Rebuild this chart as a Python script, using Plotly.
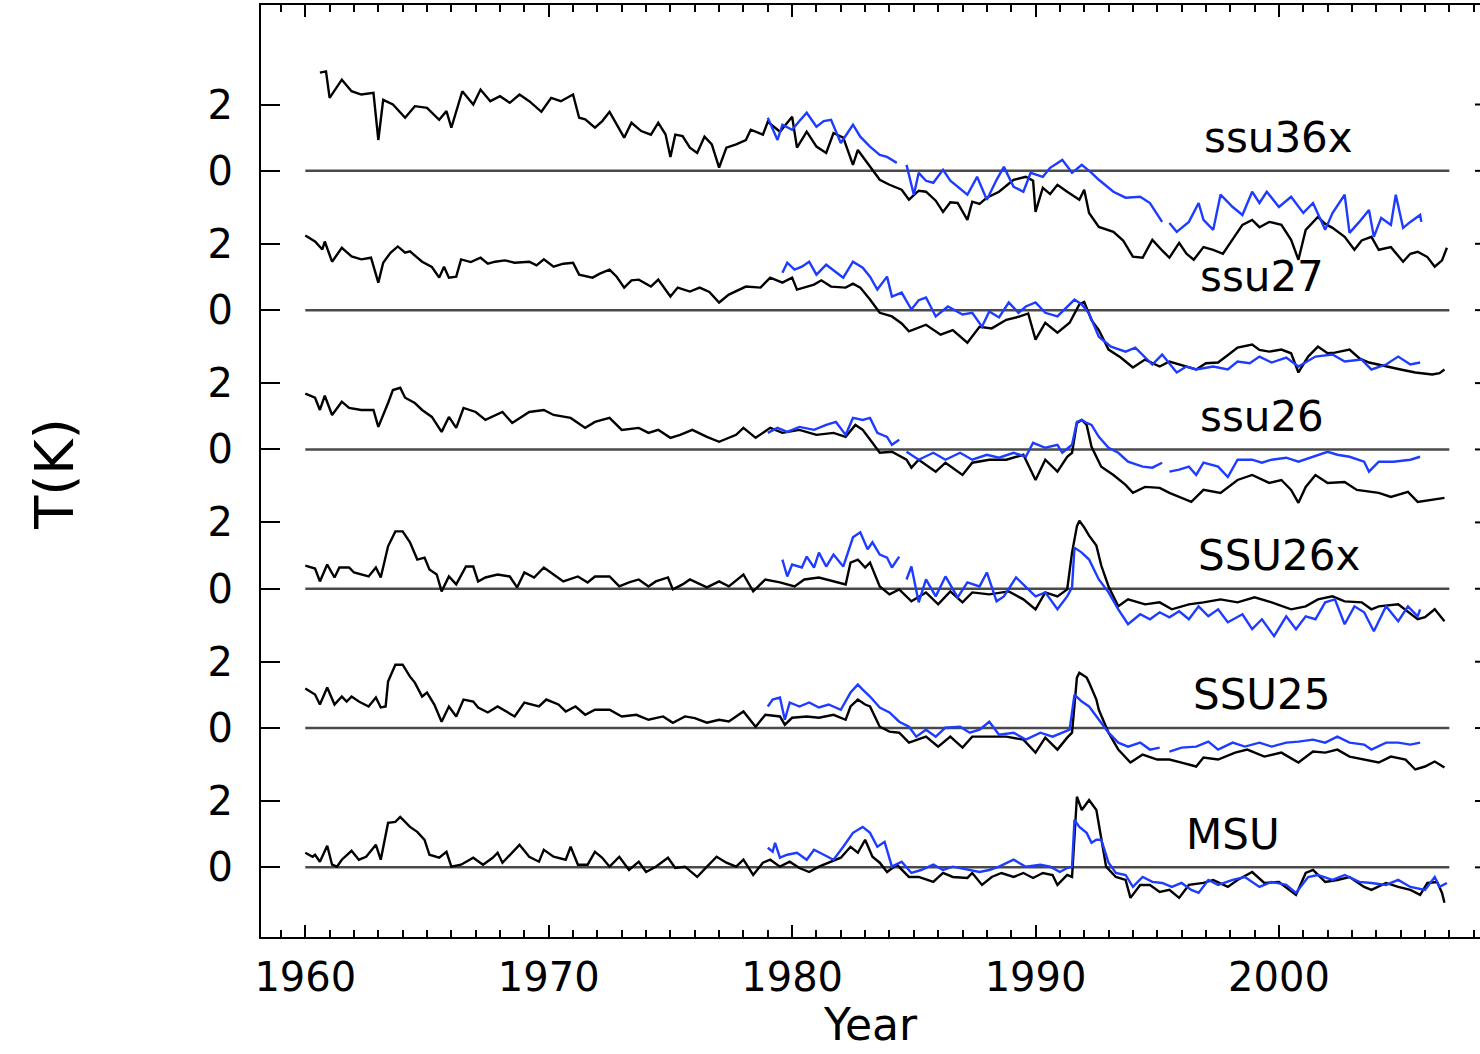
import plotly.graph_objects as go

# ---------------- data (year, T anomaly in K); None = gap ----------------
panel_names = ["ssu36x", "ssu27", "ssu26", "SSU26x", "SSU25", "MSU"]
panel_spacing = 4.2

ssu36x_black = [(1960.6, 2.96), (1960.85, 3.0), (1961.0, 2.2), (1961.5, 2.75), (1961.9, 2.4), (1962.3, 2.3), (1962.8, 2.35),
    (1963.0, 0.93), (1963.2, 2.14), (1963.6, 2.0), (1964.1, 1.6), (1964.5, 1.95), (1965.0, 1.9), (1965.5, 1.54), (1965.8, 1.8),
    (1966.0, 1.3), (1966.45, 2.4), (1966.9, 2.0), (1967.2, 2.45), (1967.6, 2.1), (1968.0, 2.25), (1968.4, 2.05), (1968.8, 2.3),
    (1969.2, 2.1), (1969.7, 1.78), (1970.1, 2.2), (1970.5, 2.1), (1971.0, 2.3), (1971.25, 1.6), (1971.5, 1.55), (1971.9, 1.3),
    (1972.2, 1.5), (1972.5, 1.78), (1972.8, 1.4), (1973.1, 1.0), (1973.4, 1.45), (1973.8, 1.2), (1974.2, 1.09), (1974.5, 1.45),
    (1974.8, 1.1), (1975.0, 0.42), (1975.2, 1.09), (1975.5, 1.05), (1975.8, 0.7), (1976.1, 0.54), (1976.4, 1.03), (1976.7, 0.8),
    (1977.0, 0.1), (1977.3, 0.7), (1977.7, 0.8), (1978.1, 0.93), (1978.3, 1.24), (1978.8, 1.09), (1979.0, 1.48), (1979.5, 1.18),
    (1980.0, 1.63), (1980.2, 0.7), (1980.6, 1.18), (1981.0, 0.73), (1981.4, 0.54), (1981.7, 1.14), (1982.1, 1.0), (1982.5, 0.18),
    (1982.7, 0.63), (1983.1, 0.24), (1983.6, -0.27), (1984.0, -0.42), (1984.5, -0.57), (1984.8, -0.87), (1985.2, -0.6),
    (1985.5, -0.63), (1985.9, -0.9), (1986.2, -1.24), (1986.5, -0.95), (1986.8, -0.97), (1987.2, -1.48), (1987.4, -0.93),
    (1987.7, -1.0), (1988.0, -0.81), (1988.5, -0.63), (1988.8, -0.45), (1989.1, -0.27), (1989.6, -0.18), (1989.9, -0.3),
    (1990.0, -1.24), (1990.3, -0.51), (1990.6, -0.7), (1990.9, -0.42), (1991.3, -0.63), (1991.8, -0.87), (1992.0, -0.57),
    (1992.2, -1.27), (1992.6, -1.69), (1993.2, -1.84), (1993.6, -2.1), (1994.0, -2.59), (1994.4, -2.62), (1994.8, -2.08),
    (1995.2, -2.4), (1995.5, -2.62), (1995.9, -2.17), (1996.2, -2.5), (1996.5, -2.68), (1996.9, -2.3), (1997.3, -2.38),
    (1997.7, -2.5), (1998.0, -2.17), (1998.5, -1.63), (1998.9, -1.48), (1999.2, -1.7), (1999.6, -1.54), (2000.1, -1.63),
    (2000.5, -2.08), (2000.8, -2.68), (2001.1, -1.78), (2001.6, -1.39), (2001.9, -1.6), (2002.2, -1.72), (2002.7, -1.99),
    (2003.1, -2.38), (2003.4, -2.1), (2003.8, -1.99), (2004.1, -2.38), (2004.6, -2.3), (2005.1, -2.74), (2005.4, -2.5),
    (2005.7, -2.44), (2006.1, -2.6), (2006.4, -2.89), (2006.7, -2.7), (2006.9, -2.32)]

ssu36x_blue = [(1979.0, 1.6), (1979.4, 0.93), (1979.6, 1.39), (1980.0, 1.24), (1980.3, 1.5), (1980.6, 1.75), (1981.0, 1.33),
    (1981.3, 1.5), (1981.6, 1.54), (1982.0, 0.84), (1982.5, 1.39), (1982.8, 1.03), (1983.2, 0.73), (1983.6, 0.48), (1983.9, 0.42),
    (1984.3, 0.24), None, (1984.7, 0.18), (1985.0, -0.72), (1985.2, -0.06), (1985.5, -0.3), (1985.8, -0.36), (1986.2, 0.03),
    (1986.5, -0.3), (1986.8, -0.48), (1987.2, -0.72), (1987.6, -0.18), (1988.0, -0.87), (1988.4, -0.27), (1988.7, 0.12),
    (1989.1, -0.48), (1989.5, -0.63), (1989.8, -0.06), (1990.3, -0.18), (1990.6, 0.09), (1991.1, 0.33), (1991.5, -0.06),
    (1991.9, 0.18), (1992.3, -0.06), (1992.6, -0.27), (1993.2, -0.63), (1993.7, -0.81), (1994.3, -0.78), (1994.7, -0.97),
    (1995.2, -1.54), None, (1995.5, -1.57), (1995.8, -1.84), (1996.3, -1.54), (1996.7, -0.97), (1996.9, -1.48), (1997.3, -1.78),
    (1997.6, -0.72), (1998.1, -1.09), (1998.5, -1.33), (1998.9, -0.63), (1999.2, -0.97), (1999.5, -0.63), (2000.0, -1.09),
    (2000.5, -0.78), (2001.0, -1.27), (2001.4, -0.97), (2001.9, -1.78), (2002.2, -1.27), (2002.7, -0.72), (2002.9, -1.87),
    (2003.3, -1.54), (2003.7, -1.18), (2003.9, -1.99), (2004.2, -1.42), (2004.6, -1.63), (2004.8, -0.72), (2005.1, -1.72),
    (2005.4, -1.54), (2005.8, -1.33), (2005.85, -1.54)]

ssu27_black = [(1960.0, 2.25), (1960.4, 2.07), (1960.7, 1.83), (1960.8, 2.07), (1961.1, 1.46), (1961.5, 1.88), (1961.9, 1.62),
    (1962.3, 1.53), (1962.7, 1.58), (1963.0, 0.83), (1963.2, 1.43), (1963.5, 1.73), (1963.8, 1.92), (1964.1, 1.73), (1964.3, 1.77),
    (1964.8, 1.46), (1965.2, 1.3), (1965.5, 0.98), (1965.7, 1.31), (1965.9, 0.98), (1966.2, 1.01), (1966.4, 1.53), (1966.8, 1.45),
    (1967.2, 1.58), (1967.5, 1.4), (1967.8, 1.46), (1968.2, 1.5), (1968.6, 1.43), (1969.2, 1.46), (1969.5, 1.35), (1969.8, 1.53),
    (1970.2, 1.31), (1970.6, 1.4), (1971.0, 1.43), (1971.25, 1.07), (1971.8, 0.98), (1972.1, 1.1), (1972.5, 1.22), (1972.8, 1.0),
    (1973.1, 0.68), (1973.4, 0.9), (1973.7, 0.92), (1974.2, 0.71), (1974.5, 0.92), (1975.0, 0.41), (1975.3, 0.68), (1975.8, 0.56),
    (1976.2, 0.68), (1976.6, 0.55), (1977.0, 0.23), (1977.4, 0.47), (1977.8, 0.6), (1978.1, 0.71), (1978.7, 0.68), (1979.1, 0.98),
    (1979.6, 0.83), (1980.0, 0.98), (1980.2, 0.62), (1980.9, 0.77), (1981.2, 0.9), (1981.6, 0.71), (1982.2, 0.68), (1982.5, 0.8),
    (1982.8, 0.68), (1983.2, 0.32), (1983.6, -0.08), (1984.1, -0.19), (1984.5, -0.4), (1984.8, -0.64), (1985.5, -0.44),
    (1986.1, -0.74), (1986.6, -0.6), (1987.2, -0.98), (1987.7, -0.5), (1988.2, -0.55), (1988.8, -0.29), (1989.3, -0.2),
    (1989.7, -0.1), (1990.0, -0.89), (1990.4, -0.38), (1990.9, -0.68), (1991.4, -0.38), (1991.8, 0.17), (1992.0, 0.25),
    (1992.3, -0.3), (1992.6, -0.6), (1993.0, -1.19), (1993.5, -1.43), (1994.0, -1.73), (1994.5, -1.49), (1995.1, -1.7),
    (1995.5, -1.55), (1995.9, -1.64), (1996.6, -1.79), (1997.0, -1.6), (1997.5, -1.58), (1998.0, -1.3), (1998.3, -1.13),
    (1998.9, -1.04), (1999.2, -1.2), (1999.6, -1.25), (2000.1, -1.19), (2000.5, -1.3), (2000.8, -1.88), (2001.2, -1.4),
    (2001.6, -1.1), (2002.0, -1.3), (2002.3, -1.28), (2002.9, -1.19), (2003.3, -1.45), (2003.7, -1.58), (2004.4, -1.7),
    (2005.0, -1.79), (2005.6, -1.88), (2006.3, -1.94), (2006.6, -1.9), (2006.8, -1.79)]

ssu27_blue = [(1979.6, 1.13), (1979.8, 1.43), (1980.1, 1.22), (1980.4, 1.31), (1980.7, 1.46), (1981.0, 1.07), (1981.4, 1.37),
    (1981.7, 1.2), (1982.1, 0.98), (1982.5, 1.46), (1982.9, 1.28), (1983.2, 1.01), (1983.5, 0.62), (1983.9, 1.01), (1984.1, 0.41),
    (1984.5, 0.53), (1984.9, 0.02), (1985.2, 0.3), (1985.5, 0.38), (1985.9, -0.19), (1986.4, 0.11), (1987.0, -0.13),
    (1987.4, -0.08), (1987.8, -0.5), (1988.1, -0.04), (1988.5, -0.22), (1988.9, 0.23), (1989.3, -0.08), (1989.6, 0.11),
    (1990.0, 0.23), (1990.4, -0.08), (1990.9, -0.19), (1991.3, 0.11), (1991.6, 0.32), (1991.9, 0.17), (1992.2, -0.1),
    (1992.6, -0.8), (1993.1, -1.1), (1993.7, -1.25), (1994.1, -1.13), (1994.8, -1.64), (1995.2, -1.34), (1995.8, -1.88),
    (1996.2, -1.7), (1996.6, -1.79), (1997.3, -1.7), (1997.9, -1.79), (1998.3, -1.55), (1998.8, -1.6), (1999.2, -1.4),
    (1999.7, -1.58), (2000.3, -1.43), (2000.8, -1.7), (2001.5, -1.4), (2002.2, -1.34), (2002.7, -1.55), (2003.4, -1.49),
    (2003.8, -1.79), (2004.4, -1.64), (2004.9, -1.4), (2005.4, -1.64), (2005.8, -1.58)]

ssu26_black = [(1960.0, 1.68), (1960.4, 1.56), (1960.6, 1.19), (1960.8, 1.62), (1961.1, 1.04), (1961.5, 1.44), (1961.8, 1.25),
    (1962.3, 1.19), (1962.8, 1.19), (1963.0, 0.68), (1963.4, 1.4), (1963.6, 1.79), (1963.9, 1.86), (1964.1, 1.56), (1964.5, 1.4),
    (1964.8, 1.19), (1965.2, 0.98), (1965.6, 0.53), (1965.9, 0.98), (1966.2, 0.65), (1966.5, 1.25), (1967.0, 1.13), (1967.4, 0.89),
    (1968.1, 1.13), (1968.5, 0.8), (1969.2, 1.13), (1969.8, 1.19), (1970.2, 1.04), (1970.9, 0.95), (1971.5, 0.65), (1971.9, 0.83),
    (1972.5, 0.95), (1973.0, 0.59), (1973.7, 0.65), (1974.1, 0.5), (1974.5, 0.59), (1975.0, 0.35), (1975.4, 0.44), (1975.9, 0.59),
    (1976.5, 0.38), (1977.0, 0.23), (1977.7, 0.44), (1978.0, 0.65), (1978.5, 0.35), (1979.1, 0.65), (1979.6, 0.5), (1980.3, 0.59),
    (1981.0, 0.44), (1981.7, 0.5), (1982.2, 0.38), (1982.6, 0.74), (1982.9, 0.59), (1983.3, 0.2), (1983.6, -0.1), (1984.1, -0.07),
    (1984.7, -0.31), (1984.9, -0.55), (1985.2, -0.31), (1985.9, -0.67), (1986.3, -0.4), (1987.0, -0.77), (1987.4, -0.4),
    (1988.1, -0.31), (1988.8, -0.31), (1989.5, -0.16), (1990.0, -0.92), (1990.4, -0.31), (1990.9, -0.67), (1991.3, -0.22),
    (1991.5, -0.1), (1991.7, 0.8), (1991.9, 0.89), (1992.1, 0.74), (1992.3, 0.08), (1992.7, -0.52), (1993.2, -0.77),
    (1993.7, -1.07), (1994.0, -1.31), (1994.5, -1.13), (1995.1, -1.16), (1995.5, -1.31), (1995.9, -1.43), (1996.4, -1.58),
    (1996.9, -1.22), (1997.6, -1.31), (1998.3, -0.92), (1998.9, -0.77), (1999.6, -1.01), (2000.1, -0.92), (2000.5, -1.22),
    (2000.8, -1.61), (2001.1, -1.13), (2001.5, -0.77), (2002.0, -1.01), (2002.7, -0.98), (2003.2, -1.22), (2004.1, -1.31),
    (2004.6, -1.43), (2005.3, -1.28), (2005.7, -1.58), (2006.3, -1.52), (2006.8, -1.46)]

ssu26_blue = [(1979.0, 0.5), (1979.4, 0.65), (1979.8, 0.53), (1980.3, 0.68), (1980.9, 0.59), (1981.4, 0.74), (1981.8, 0.83),
    (1982.2, 0.44), (1982.5, 0.95), (1982.9, 0.89), (1983.2, 0.95), (1983.5, 0.5), (1983.9, 0.38), (1984.1, 0.14), (1984.4, 0.29),
    None, (1984.7, -0.07), (1985.2, -0.31), (1985.8, -0.1), (1986.3, -0.31), (1986.9, -0.1), (1987.4, -0.31), (1988.0, -0.16),
    (1988.5, -0.25), (1989.1, -0.1), (1989.6, -0.22), (1989.9, 0.2), (1990.4, 0.05), (1990.9, 0.14), (1991.1, -0.1),
    (1991.5, 0.14), (1991.7, 0.83), (1991.9, 0.89), (1992.1, 0.8), (1992.3, 0.74), (1992.6, 0.38), (1993.0, 0.05),
    (1993.4, -0.1), (1993.8, -0.37), (1994.4, -0.52), (1994.8, -0.55), (1995.2, -0.4), None, (1995.5, -0.67), (1995.9, -0.61),
    (1996.3, -0.52), (1996.6, -0.77), (1996.9, -0.4), (1997.5, -0.52), (1997.9, -0.83), (1998.3, -0.31), (1998.9, -0.31),
    (1999.3, -0.4), (1999.7, -0.31), (2000.3, -0.25), (2000.8, -0.37), (2001.4, -0.22), (2002.0, -0.07), (2002.4, -0.16),
    (2002.9, -0.22), (2003.5, -0.37), (2003.7, -0.67), (2004.1, -0.37), (2004.7, -0.37), (2005.4, -0.31), (2005.8, -0.22)]

SSU26x_black = [(1960.0, 0.7), (1960.4, 0.61), (1960.6, 0.22), (1960.9, 0.73), (1961.2, 0.34), (1961.4, 0.64), (1961.8, 0.64),
    (1962.0, 0.49), (1962.6, 0.37), (1962.9, 0.64), (1963.1, 0.34), (1963.4, 1.28), (1963.7, 1.73), (1964.0, 1.73), (1964.3, 1.4),
    (1964.6, 0.88), (1964.9, 0.94), (1965.1, 0.58), (1965.4, 0.43), (1965.6, -0.08), (1965.9, 0.37), (1966.2, 0.13), (1966.6, 0.67),
    (1966.9, 0.67), (1967.1, 0.22), (1967.4, 0.34), (1967.9, 0.43), (1968.4, 0.37), (1968.7, 0.04), (1969.0, 0.49), (1969.4, 0.34),
    (1969.8, 0.64), (1970.2, 0.43), (1970.6, 0.22), (1971.2, 0.37), (1971.6, 0.19), (1971.9, 0.37), (1972.5, 0.37), (1972.9, 0.07),
    (1973.3, 0.19), (1973.7, 0.28), (1974.1, 0.07), (1974.4, 0.22), (1974.9, 0.34), (1975.1, -0.02), (1975.5, 0.13), (1975.8, 0.28),
    (1976.5, 0.04), (1977.0, 0.22), (1977.4, 0.07), (1978.0, 0.43), (1978.4, -0.08), (1978.9, 0.28), (1979.5, 0.19), (1980.1, 0.07),
    (1980.5, 0.28), (1981.1, 0.34), (1981.8, 0.22), (1982.2, 0.13), (1982.4, 0.79), (1982.7, 0.88), (1983.0, 0.64), (1983.2, 0.79),
    (1983.6, 0.07), (1984.0, -0.17), (1984.4, -0.02), (1984.9, -0.38), (1985.5, -0.11), (1986.0, -0.47), (1986.5, -0.08),
    (1987.0, -0.41), (1987.4, -0.11), (1988.1, -0.17), (1988.9, -0.08), (1989.5, -0.32), (1990.0, -0.62), (1990.4, -0.11),
    (1990.9, -0.23), (1991.3, -0.02), (1991.5, 1.09), (1991.7, 1.88), (1991.8, 2.05), (1992.0, 1.85), (1992.2, 1.6), (1992.5, 1.3),
    (1992.7, 0.7), (1993.0, 0.07), (1993.4, -0.53), (1993.8, -0.32), (1994.5, -0.47), (1995.1, -0.41), (1995.6, -0.62),
    (1996.3, -0.47), (1996.9, -0.41), (1997.6, -0.32), (1998.3, -0.41), (1999.0, -0.26), (1999.7, -0.41), (2000.5, -0.62),
    (2001.1, -0.53), (2001.6, -0.32), (2002.2, -0.23), (2002.7, -0.38), (2003.4, -0.41), (2003.8, -0.62), (2004.1, -0.53),
    (2004.9, -0.47), (2005.7, -0.92), (2006.0, -0.86), (2006.4, -0.62), (2006.8, -0.98)]

SSU26x_blue = [(1979.6, 0.88), (1979.8, 0.37), (1980.0, 0.73), (1980.4, 0.64), (1980.6, 0.97), (1980.9, 0.64), (1981.1, 1.09),
    (1981.4, 0.67), (1981.7, 1.03), (1982.1, 0.67), (1982.5, 1.55), (1982.8, 1.7), (1983.1, 1.19), (1983.3, 1.4), (1983.6, 1.03),
    (1983.9, 0.94), (1984.1, 0.64), (1984.4, 0.97), None, (1984.7, 0.28), (1984.9, 0.67), (1985.2, -0.41), (1985.5, 0.28),
    (1985.9, -0.23), (1986.3, 0.37), (1986.8, -0.26), (1987.2, 0.19), (1987.7, 0.07), (1988.0, 0.49), (1988.4, -0.38),
    (1988.7, -0.23), (1989.2, 0.34), (1989.6, 0.07), (1990.0, -0.23), (1990.4, -0.11), (1990.9, -0.62), (1991.3, -0.23),
    (1991.5, 0.04), (1991.6, 1.24), (1991.9, 1.09), (1992.2, 0.88), (1992.6, 0.28), (1993.0, -0.11), (1993.4, -0.62),
    (1993.8, -1.07), (1994.3, -0.77), (1994.7, -0.92), (1995.1, -0.71), (1995.5, -0.86), (1995.9, -0.68), (1996.3, -0.92),
    (1996.7, -0.53), (1997.1, -0.83), (1997.5, -0.62), (1997.9, -1.01), (1998.5, -0.77), (1998.9, -1.22), (1999.3, -0.92),
    (1999.8, -1.43), (2000.3, -0.83), (2000.7, -1.22), (2001.1, -0.83), (2001.5, -0.92), (2001.9, -0.41), (2002.3, -0.32),
    (2002.7, -1.07), (2003.1, -0.53), (2003.5, -0.71), (2003.9, -1.28), (2004.4, -0.53), (2004.9, -0.98), (2005.3, -0.53),
    (2005.7, -0.83), (2005.8, -0.62)]

SSU25_black = [(1960.0, 1.19), (1960.4, 1.01), (1960.6, 0.71), (1960.9, 1.22), (1961.2, 0.71), (1961.5, 0.95), (1961.7, 0.8),
    (1961.9, 0.95), (1962.2, 0.8), (1962.6, 0.65), (1962.9, 0.92), (1963.1, 0.62), (1963.3, 0.65), (1963.4, 1.4), (1963.7, 1.91),
    (1964.0, 1.91), (1964.3, 1.55), (1964.5, 1.37), (1964.8, 0.95), (1965.0, 1.07), (1965.3, 0.71), (1965.6, 0.19), (1965.9, 0.65),
    (1966.2, 0.35), (1966.5, 0.86), (1966.9, 0.8), (1967.1, 0.62), (1967.5, 0.47), (1967.9, 0.65), (1968.6, 0.35), (1969.0, 0.77),
    (1969.6, 0.65), (1969.9, 0.86), (1970.4, 0.71), (1970.7, 0.5), (1971.1, 0.65), (1971.5, 0.4), (1971.9, 0.55), (1972.5, 0.55),
    (1973.0, 0.35), (1973.6, 0.4), (1974.1, 0.25), (1974.7, 0.35), (1975.1, 0.16), (1975.6, 0.35), (1976.0, 0.3), (1976.5, 0.16),
    (1977.0, 0.25), (1977.4, 0.2), (1978.0, 0.5), (1978.5, 0.04), (1978.9, 0.4), (1979.5, 0.35), (1979.7, 0.1), (1980.0, 0.31),
    (1980.6, 0.35), (1981.1, 0.31), (1981.7, 0.4), (1982.2, 0.25), (1982.4, 0.65), (1982.7, 0.86), (1983.0, 0.71), (1983.2, 0.65),
    (1983.6, 0.04), (1984.0, -0.11), (1984.4, -0.14), (1984.8, -0.44), (1985.5, -0.26), (1986.0, -0.56), (1986.5, -0.26),
    (1987.0, -0.59), (1987.4, -0.26), (1988.1, -0.26), (1988.8, -0.26), (1989.5, -0.35), (1990.0, -0.74), (1990.4, -0.29),
    (1990.9, -0.65), (1991.3, -0.29), (1991.5, -0.14), (1991.7, 1.52), (1991.8, 1.67), (1992.1, 1.52), (1992.2, 1.37),
    (1992.5, 0.86), (1992.6, 0.55), (1993.0, -0.14), (1993.4, -0.65), (1993.9, -1.04), (1994.4, -0.8), (1995.0, -0.95),
    (1995.5, -0.95), (1996.0, -1.04), (1996.6, -1.16), (1996.9, -0.89), (1997.5, -0.95), (1998.2, -0.74), (1998.7, -0.65),
    (1999.4, -0.86), (2000.1, -0.74), (2000.8, -1.04), (2001.4, -0.71), (2001.9, -0.74), (2002.4, -0.65), (2002.9, -0.86),
    (2003.5, -0.95), (2004.1, -1.04), (2004.6, -0.86), (2005.2, -0.95), (2005.6, -1.25), (2006.0, -1.16), (2006.4, -1.01),
    (2006.8, -1.19)]

SSU25_blue = [(1979.0, 0.65), (1979.2, 0.86), (1979.5, 0.92), (1979.7, 0.25), (1979.9, 0.77), (1980.3, 0.65), (1980.7, 0.77),
    (1981.1, 0.62), (1981.5, 0.71), (1982.0, 0.55), (1982.4, 1.07), (1982.7, 1.31), (1982.9, 1.16), (1983.2, 0.95), (1983.6, 0.62),
    (1984.0, 0.47), (1984.4, 0.19), (1984.8, 0.04), (1985.1, -0.26), (1985.5, -0.05), (1985.9, -0.26), (1986.3, 0.01),
    (1986.9, 0.04), (1987.3, -0.14), (1987.7, -0.05), (1988.1, 0.19), (1988.5, -0.2), (1989.1, -0.14), (1989.6, -0.35),
    (1990.2, -0.14), (1990.7, -0.26), (1991.1, -0.14), (1991.4, -0.05), (1991.6, 1.01), (1991.8, 0.86), (1991.9, 0.8),
    (1992.2, 0.65), (1992.6, 0.25), (1993.0, -0.14), (1993.4, -0.44), (1993.8, -0.56), (1994.3, -0.44), (1994.7, -0.65),
    (1995.1, -0.59), None, (1995.5, -0.71), (1996.0, -0.59), (1996.6, -0.56), (1997.1, -0.41), (1997.5, -0.65), (1998.1, -0.44),
    (1998.6, -0.56), (1999.2, -0.44), (1999.7, -0.56), (2000.3, -0.44), (2000.8, -0.41), (2001.4, -0.35), (2001.9, -0.44),
    (2002.4, -0.26), (2002.9, -0.44), (2003.5, -0.5), (2003.8, -0.65), (2004.4, -0.44), (2004.9, -0.44), (2005.4, -0.5),
    (2005.8, -0.44)]

MSU_black = [(1960.0, 0.44), (1960.3, 0.32), (1960.4, 0.38), (1960.6, 0.17), (1960.9, 0.65), (1961.1, 0.08), (1961.3, 0.02),
    (1961.5, 0.23), (1961.9, 0.5), (1962.2, 0.23), (1962.5, 0.32), (1962.9, 0.68), (1963.1, 0.23), (1963.4, 1.34), (1963.7, 1.37),
    (1963.9, 1.52), (1964.3, 1.22), (1964.6, 1.07), (1964.9, 0.83), (1965.1, 0.38), (1965.5, 0.29), (1965.8, 0.47), (1966.0, 0.02),
    (1966.4, 0.08), (1966.9, 0.29), (1967.3, 0.08), (1967.7, 0.29), (1967.9, 0.44), (1968.1, 0.14), (1968.4, 0.38), (1968.8, 0.68),
    (1969.2, 0.32), (1969.6, 0.17), (1969.8, 0.53), (1970.2, 0.32), (1970.7, 0.23), (1970.9, 0.62), (1971.2, 0.08), (1971.6, 0.08),
    (1971.9, 0.47), (1972.2, 0.29), (1972.5, 0.02), (1972.9, 0.32), (1973.3, -0.08), (1973.7, 0.17), (1974.0, -0.14), (1974.4, 0.02),
    (1974.9, 0.29), (1975.2, -0.02), (1975.6, 0.02), (1976.1, -0.29), (1976.5, 0.02), (1976.9, 0.32), (1977.3, 0.14), (1977.7, 0.02),
    (1978.0, 0.23), (1978.4, -0.23), (1978.8, 0.14), (1979.1, 0.23), (1979.5, 0.02), (1979.9, 0.17), (1980.3, -0.02), (1980.7, -0.14),
    (1981.1, 0.02), (1981.5, 0.14), (1982.0, 0.29), (1982.4, 0.62), (1982.7, 0.44), (1983.0, 0.83), (1983.3, 0.32), (1983.6, 0.14),
    (1983.9, -0.14), (1984.3, 0.08), (1984.8, -0.29), (1985.2, -0.29), (1985.8, -0.44), (1986.2, -0.17), (1986.6, -0.29),
    (1987.2, -0.32), (1987.4, -0.17), (1987.8, -0.53), (1988.2, -0.29), (1988.6, -0.17), (1989.1, -0.29), (1989.5, -0.17),
    (1989.9, -0.32), (1990.3, -0.17), (1990.7, -0.23), (1990.9, -0.53), (1991.3, -0.23), (1991.5, -0.29), (1991.7, 2.13),
    (1991.9, 1.73), (1992.2, 2.03), (1992.5, 1.73), (1992.7, 0.83), (1992.9, 0.02), (1993.3, -0.29), (1993.7, -0.38),
    (1993.9, -0.92), (1994.3, -0.53), (1994.7, -0.53), (1995.1, -0.74), (1995.5, -0.68), (1995.9, -0.92), (1996.3, -0.53),
    (1996.9, -0.47), (1997.3, -0.38), (1997.9, -0.59), (1998.3, -0.38), (1998.9, -0.14), (1999.4, -0.47), (2000.0, -0.44),
    (2000.7, -0.83), (2001.1, -0.17), (2001.4, -0.08), (2001.9, -0.44), (2002.4, -0.38), (2002.9, -0.29), (2003.5, -0.59),
    (2003.8, -0.68), (2004.4, -0.47), (2004.9, -0.59), (2005.4, -0.68), (2005.8, -0.83), (2006.1, -0.47), (2006.5, -0.44),
    (2006.7, -0.77), (2006.8, -1.07)]

MSU_blue = [(1979.0, 0.59), (1979.2, 0.47), (1979.3, 0.74), (1979.5, 0.29), (1979.8, 0.38), (1980.2, 0.44), (1980.6, 0.23),
    (1980.9, 0.53), (1981.3, 0.38), (1981.7, 0.23), (1982.1, 0.62), (1982.5, 1.04), (1982.9, 1.22), (1983.2, 1.04), (1983.5, 0.62),
    (1983.8, 0.77), (1984.1, 0.02), (1984.5, 0.17), (1984.9, -0.17), (1985.3, -0.08), (1985.8, 0.08), (1986.2, -0.08),
    (1986.6, 0.02), (1987.2, -0.08), (1987.7, -0.14), (1988.1, -0.08), (1988.5, 0.02), (1989.1, 0.23), (1989.6, 0.02),
    (1990.2, 0.08), (1990.6, 0.02), (1991.0, -0.14), (1991.3, -0.02), (1991.5, 0.02), (1991.6, 1.43), (1991.8, 1.22),
    (1992.1, 1.04), (1992.3, 0.74), (1992.5, 0.83), (1992.7, 0.83), (1993.0, 0.14), (1993.3, -0.17), (1993.7, -0.23),
    (1994.0, -0.59), (1994.4, -0.29), (1994.8, -0.44), (1995.2, -0.47), (1995.6, -0.59), (1996.0, -0.47), (1996.4, -0.68),
    (1996.7, -0.77), (1997.1, -0.38), (1997.5, -0.53), (1998.1, -0.38), (1998.6, -0.29), (1999.2, -0.59), (1999.7, -0.44),
    (2000.3, -0.53), (2000.7, -0.77), (2001.2, -0.29), (2001.6, -0.23), (2002.2, -0.38), (2002.7, -0.23), (2003.3, -0.44),
    (2003.8, -0.47), (2004.4, -0.53), (2004.9, -0.38), (2005.4, -0.59), (2006.0, -0.68), (2006.4, -0.29), (2006.6, -0.59),
    (2006.9, -0.47)]

x_ticks = [1960, 1970, 1980, 1990, 2000]
zero_line_span = (1960, 2007)

# ---------------- figure ----------------
black_series = [ssu36x_black, ssu27_black, ssu26_black, SSU26x_black, SSU25_black, MSU_black]
blue_series = [ssu36x_blue, ssu27_blue, ssu26_blue, SSU26x_blue, SSU25_blue, MSU_blue]
n = len(panel_names)
offsets = [panel_spacing * (n - 1 - i) for i in range(n)]

BLUE = "#1e3cff"
FONT = "DejaVu Sans"


def unpack(series, off):
    xs, ys = [], []
    for p in series:
        if p is None:
            xs.append(None); ys.append(None)
        else:
            xs.append(p[0]); ys.append(p[1] + off)
    return xs, ys


fig = go.Figure()
shapes = []
annotations = []
label_style = {"ssu36x": (2000.0, 1.0), "ssu27": (1999.3, 1.0), "ssu26": (1999.3, 1.0),
               "SSU26x": (2000.0, 1.0), "SSU25": (1999.3, 1.0), "MSU": (1998.1, 1.0)}

for name, off, bk, bl in zip(panel_names, offsets, black_series, blue_series):
    shapes.append(dict(type="line", xref="x", yref="y", x0=zero_line_span[0], x1=zero_line_span[1],
                       y0=off, y1=off, line=dict(color="#4a4a4a", width=2.5), layer="below"))
    xs, ys = unpack(bk, off)
    fig.add_trace(go.Scatter(x=xs, y=ys, mode="lines", line=dict(color="black", width=2.4),
                             connectgaps=False, showlegend=False, hoverinfo="skip"))
    xs, ys = unpack(bl, off)
    fig.add_trace(go.Scatter(x=xs, y=ys, mode="lines", line=dict(color=BLUE, width=2.4),
                             connectgaps=False, showlegend=False, hoverinfo="skip"))
    lx, dy = label_style[name]
    annotations.append(dict(x=lx, y=off + dy, xref="x", yref="y", text=name, showarrow=False,
                            xanchor="center", yanchor="middle", font=dict(family=FONT, size=42, color="black")))

tickvals, ticktext = [], []
for off in offsets:
    tickvals += [off, off + 2]
    ticktext += ["0", "2"]

W, H = 1480, 1054
ML, MR, MT, MB = 261, 0, 5, 117
plot_w = W - ML - MR
plot_h = H - MT - MB
for tv in tickvals:
    shapes.append(dict(type="line", xref="paper", yref="y", x0=1 - 5 / plot_w, x1=1, y0=tv, y1=tv,
                       line=dict(color="black", width=2)))

# "Year" sits at the very bottom edge of the figure, as in the original
annotations.append(dict(x=0.5, y=-(H - 2 - (H - MB)) / plot_h, xref="paper", yref="paper", text="Year",
                        showarrow=False, xanchor="center", yanchor="bottom",
                        font=dict(family=FONT, size=44, color="black")))
annotations.append(dict(x=-0.169, y=0.497, xref="paper", yref="paper", text="T(K)", showarrow=False,
                        textangle=-90, xanchor="center", yanchor="middle",
                        font=dict(family=FONT, size=54, color="black")))

fig.update_layout(
    width=W, height=H, margin=dict(l=ML, r=MR, t=MT, b=MB, pad=0),
    paper_bgcolor="white", plot_bgcolor="white",
    shapes=shapes, annotations=annotations, showlegend=False,
    xaxis=dict(range=[1958.18, 2008.26], tickvals=x_ticks, ticktext=[str(t) for t in x_ticks],
               ticks="inside", ticklen=12, tickwidth=2, tickcolor="black",
               minor=dict(dtick=1, tick0=1960, ticks="inside", ticklen=7, tickwidth=1.5, tickcolor="black"),
               showline=True, linewidth=2, linecolor="black", mirror="ticks",
               showgrid=False, zeroline=False, ticklabelstandoff=4,
               tickfont=dict(family=FONT, size=40, color="black")),
    yaxis=dict(range=[-2.1, 26.0], tickvals=tickvals, ticktext=ticktext,
               ticks="inside", ticklen=19, tickwidth=2, tickcolor="black",
               showline=True, linewidth=2, linecolor="black", mirror=False,
               showgrid=False, zeroline=False, ticklabelstandoff=18,
               tickfont=dict(family=FONT, size=40, color="black")),
)

fig.write_html("out.html", config={"displayModeBar": False}, post_script=(
    "document.body.style.margin='0px';document.body.style.padding='0px';"
    "document.body.style.overflow='hidden';"))
